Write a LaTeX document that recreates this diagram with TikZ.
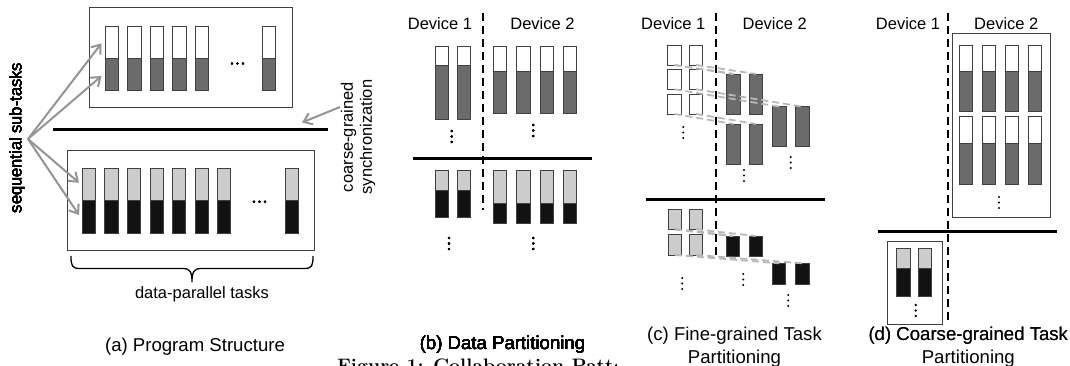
\documentclass[tikz,border=0pt]{standalone}
\usepackage{fontspec}
\newfontfamily\arial{Liberation Sans}
\usetikzlibrary{arrows.meta}
\definecolor{dk}{gray}{0.42}
\definecolor{lt}{gray}{0.80}
\definecolor{bk}{gray}{0.07}
\definecolor{ln}{gray}{0.25}
\newcommand\tkbar[6]{% x top split bottom c1 c2
  \fill[#5] (#1,#2) rectangle ({#1+13.6},#3);
  \fill[#6] (#1,#3) rectangle ({#1+13.6},#4);
  \draw[barline] (#1,#2) rectangle ({#1+13.6},#4);
  \draw[barline] (#1,#3) -- ({#1+13.6},#3);}
\newcommand\tkbox[4]{% x top bottom colour
  \filldraw[barline,fill=#4] (#1,#2) rectangle ({#1+13.6},#3);}
\newcommand\tkvd[2]{%
  \foreach \k in {0,1,2} \fill ({#1},{#2+\k*5.5}) circle (1.1pt);}
\newcommand\tkhd[2]{%
  \foreach \k in {0,1,2} \fill ({#1+\k*5.5},{#2}) circle (1.1pt);}
\begin{document}
\begin{tikzpicture}[x=1pt,y=-1pt,
  lbl/.style={font=\arial\fontsize{16.5}{19}\selectfont, inner sep=0pt, anchor=base},
  capt/.style={font=\arial\fontsize{18.6}{22}\selectfont, inner sep=0pt, anchor=base},
  bx/.style={draw=ln, line width=1pt},
  barline/.style={draw=ln, line width=0.9pt},
  sync/.style={line width=3pt},
  dev/.style={line width=2.2pt, dash pattern=on 8pt off 5pt},
  garrow/.style={draw=black!42, line width=2pt, -{Straight Barb[length=8pt,width=12pt,line width=2pt]}},
  fg/.style={draw=black!28, line width=1.8pt, dash pattern=on 7pt off 4pt}]
\useasboundingbox (0,0) rectangle (1070,366);
% figure caption (cut by page edge)
\node[anchor=base west, inner sep=0pt, font=\bfseries\fontsize{19.5}{23}\selectfont] (figcap) at (337,372) {Figure 1: Collaboration Patterns};
\fill[white] (617,346) rectangle (852,370);

% ================= (a) =================
\draw[bx] (89,8) rectangle (292,108);
\foreach \x in {105,127.5,150,172.5,195,262.3} \tkbar{\x}{26}{58.3}{90}{white}{dk}
\tkhd{232}{63.5}
\draw[sync] (53,129.3) -- (328,129.3);
\draw[bx] (67,150.7) rectangle (314,250.7);
\foreach \x in {82.3,104.7,127.3,150,172.3,195,217.3,285} \tkbar{\x}{168.3}{200.7}{233.3}{lt}{bk}
\tkhd{254}{201.7}
\node[lbl, anchor=center, rotate=90] (seq) at (17,138) {sequential sub-tasks};
\coordinate (seqsrc) at (28,139);
\coordinate (t1) at (101.5,43.3);
\coordinate (t2) at (101.5,76);
\coordinate (t3) at (79,182.7);
\coordinate (t4) at (79,215);
\foreach \t in {t1,t2,t3,t4} \draw[garrow] (seqsrc) -- (\t);
\draw[line width=1.3pt] (71,256) .. controls (71,266) and (72,268.5) .. (80,268.5) -- (183,268.5) .. controls (190,268.5) and (192,272) .. (192,282) .. controls (192,272) and (194,268.5) .. (201,268.5) -- (304,268.5) .. controls (312,268.5) and (313,266) .. (313,256);
\node[lbl] (dpt) at (202,298.5) {data-parallel tasks};
\node[capt] (capa) at (195,351) {(a) Program Structure};
\node[lbl, anchor=center, rotate=90, align=center] (cgs) at (358,137) {coarse-grained\\synchronization};
\coordinate (cgsrc) at (340,107);
\coordinate (cgdst) at (302,122.5);
\draw[garrow] (cgsrc) -- (cgdst);

% ================= (b) =================
\node[lbl] (b1) at (440,30) {Device 1};
\node[lbl] (b2) at (542.5,30) {Device 2};
\draw[dev] (483.3,12.7) -- (483.3,210);
\foreach \x in {435,457.3} \tkbar{\x}{46}{65}{119}{white}{dk}
\foreach \x in {493.3,516.7,540,563.3} \tkbar{\x}{46}{71.7}{113.3}{white}{dk}
\tkvd{451.7}{131}
\tkvd{533.3}{125}
\draw[sync] (413.3,158.3) -- (591.7,158.3);
\foreach \x in {435,457.3} \tkbar{\x}{170}{190}{217.3}{lt}{bk}
\foreach \x in {493.3,516.7,540,563.3} \tkbar{\x}{170}{203.3}{223.3}{lt}{bk}
\tkvd{449}{238}
\tkvd{533.3}{238}
\node[capt] (capb) at (502.5,349) {(b) Data Partitioning};

% ================= (c) =================
\node[lbl] (c1) at (673.3,30) {Device 1};
\node[lbl] (c2) at (774.7,30) {Device 2};
\draw[dev] (716,12.7) -- (716,255);
\foreach \x in {667.7,689.3} {
  \tkbox{\x}{45.7}{65}{white}
  \tkbox{\x}{69}{89.3}{white}
  \tkbox{\x}{94}{114}{white}}
\foreach \x in {726.7,749.3} {\tkbox{\x}{74}{114.3}{dk} \tkbox{\x}{124}{164.3}{dk}}
\foreach \x in {772.7,795.7} \tkbox{\x}{106.7}{146.7}{dk}
\draw[fg] (674.5,65) -- (733.5,74);
\draw[fg] (696.1,65) -- (756.1,74);
\draw[fg] (674.5,89.3) -- (779.5,106.7);
\draw[fg] (696.1,89.3) -- (802.5,106.7);
\draw[fg] (674.5,114) -- (733.5,124);
\draw[fg] (696.1,114) -- (756.1,124);
\tkvd{683.3}{127}
\tkvd{744}{170}
\tkvd{790.7}{157}
\draw[sync] (645.7,199.5) -- (825,199.5);
\foreach \x in {668.3,689.3} {\tkbox{\x}{209.3}{229.3}{lt} \tkbox{\x}{234.3}{255}{lt}}
\foreach \x in {726,749} \tkbox{\x}{236}{256.7}{bk}
\foreach \x in {772.3,795.7} \tkbox{\x}{263.3}{284.3}{bk}
\draw[fg] (675.1,229.3) -- (732.8,236);
\draw[fg] (696.1,229.3) -- (755.8,236);
\draw[fg] (675.1,255) -- (779.1,263.3);
\draw[fg] (696.1,255) -- (802.5,263.3);
\tkvd{682.3}{278}
\tkvd{743.3}{274}
\tkvd{788.3}{295}
\node[capt] (capc1) at (734.5,340) {(c) Fine-grained Task};
\node[capt] (capc2) at (734.5,363) {Partitioning};

% ================= (d) =================
\node[lbl] (d1) at (908,30) {Device 1};
\node[lbl] (d2) at (1006.3,30) {Device 2};
\draw[dev] (948.3,12.7) -- (948.3,323.3);
\draw[bx] (952.7,33.3) rectangle (1050.7,217.7);
\foreach \x in {959,982.3,1005,1028.3} {
  \tkbar{\x}{45}{71.7}{111.7}{white}{dk}
  \tkbar{\x}{116}{143.3}{184}{white}{dk}}
\tkvd{999}{197}
\draw[sync] (878.3,231.7) -- (1057.3,231.7);
\draw[bx] (887.3,241) rectangle (942.3,324);
\foreach \x in {896.7,918.3} \tkbar{\x}{248.3}{268.3}{296}{lt}{bk}
\tkvd{915.7}{305}
\node[capt] (capd1) at (968.3,340) {(d) Coarse-grained Task};
\node[capt] (capd2) at (968.3,363) {Partitioning};
\end{tikzpicture}
\end{document}
